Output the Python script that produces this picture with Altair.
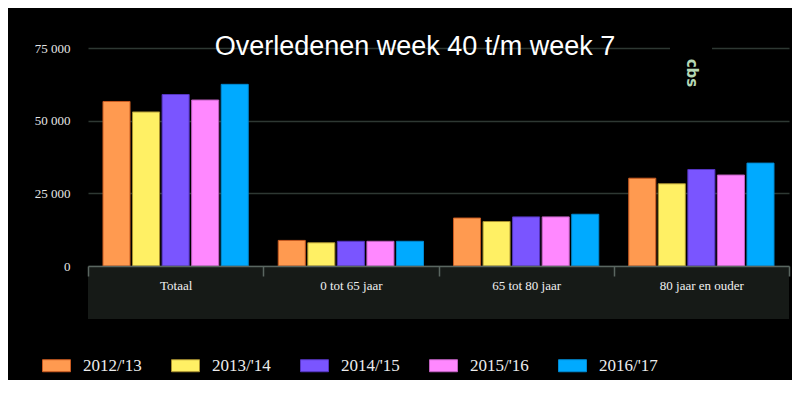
import altair as alt
import pandas as pd

categories = ["Totaal", "0 tot 65 jaar", "65 tot 80 jaar", "80 jaar en ouder"]
series = ["2012/'13", "2013/'14", "2014/'15", "2015/'16", "2016/'17"]
v_2012 = [56600, 8800, 16500, 30200]
v_2013 = [53000, 8000, 15300, 28300]
v_2014 = [59000, 8500, 16900, 33200]
v_2015 = [57100, 8500, 16900, 31300]
v_2016 = [62500, 8500, 17800, 35400]
fill_colors = ["#ff9a50", "#fff064", "#7a55ff", "#ff88ff", "#00aaff"]
stroke_colors = ["#c85a20", "#a89030", "#5535c0", "#c060c0", "#0088d0"]
y_ticks = [0, 25000, 50000, 75000]
title_text = "Overledenen week 40 t/m week 7"
logo_text = "cbs"

rows = []
for s, vals in zip(series, [v_2012, v_2013, v_2014, v_2015, v_2016]):
    for c, v in zip(categories, vals):
        rows.append({"categorie": c, "seizoen": s, "aantal": v})
df = pd.DataFrame(rows)

W, H = 701, 218

color_scale = alt.Scale(domain=series, range=fill_colors)
stroke_scale = alt.Scale(domain=series, range=stroke_colors)

legend = alt.Legend(
    orient="none", legendX=-46, legendY=303, direction="horizontal", columns=5,
    title=None, symbolType="M-1,-0.43L1,-0.43L1,0.43L-1,0.43Z", symbolSize=784,
    symbolStrokeWidth=1, symbolOpacity=1, labelFont="Liberation Serif", labelFontSize=17,
    labelColor="#ececec", labelOffset=12, columnPadding=27, labelLimit=200,
)

bars = alt.Chart(df).mark_bar(strokeWidth=1).encode(
    x=alt.X("categorie:N", sort=categories, title=None,
            scale=alt.Scale(paddingInner=0, paddingOuter=0),
            axis=alt.Axis(labelAngle=0, labelFont="Liberation Serif", labelFontSize=13,
                          labelColor="#f0f0f0", labelPadding=3, tickBand="extent",
                          tickSize=10, tickColor="#5a6660", domainColor="#5a6660",
                          tickWidth=1.5, domainWidth=1.5, zindex=2)),
    xOffset=alt.XOffset("seizoen:N", sort=series,
                        scale=alt.Scale(paddingInner=0.085, paddingOuter=0.507)),
    y=alt.Y("aantal:Q", title=None,
            scale=alt.Scale(domain=[0, 75000], nice=False),
            axis=alt.Axis(values=y_ticks, labelExpr="replace(format(datum.value, ','), ',', ' ')",
                          labelFont="Liberation Serif", labelFontSize=13, labelColor="#e6e6e6",
                          labelPadding=18, ticks=False, domain=False, grid=True,
                          gridColor="#2e3833", gridWidth=1.5)),
    fill=alt.Fill("seizoen:N", scale=color_scale, sort=series, legend=legend),
    stroke=alt.Stroke("seizoen:N", scale=stroke_scale, sort=series, legend=legend),
)

one = pd.DataFrame({"t": [title_text], "l": [logo_text]})

strip = alt.Chart(one).mark_rect(color="#161a17").encode(
    x=alt.value(0), x2=alt.value(W), y=alt.value(H), y2=alt.value(H + 53)
)
logo_box = alt.Chart(one).mark_rect(color="#000000").encode(
    x=alt.value(582), x2=alt.value(624), y=alt.value(-8), y2=alt.value(46)
)
logo = alt.Chart(one).mark_text(
    font="DejaVu Sans", fontSize=15, fontWeight="bold", color="#b5d8b5", angle=90,
    align="center", baseline="middle"
).encode(x=alt.value(604), y=alt.value(25), text="l:N")
title = alt.Chart(one).mark_text(
    font="Liberation Sans", fontSize=27, color="#ffffff", align="center", baseline="alphabetic"
).encode(x=alt.value(327), y=alt.value(7), text="t:N")

chart = alt.layer(strip, logo_box, bars, logo, title).properties(
    width=W, height=H,
    autosize=alt.AutoSizeParams(type="none"),
    padding={"left": 80, "top": 40, "right": 3, "bottom": 114},
    background="#000000",
).configure_view(stroke=None)

chart.save("out.html", embed_options={"renderer": "svg", "actions": False})
